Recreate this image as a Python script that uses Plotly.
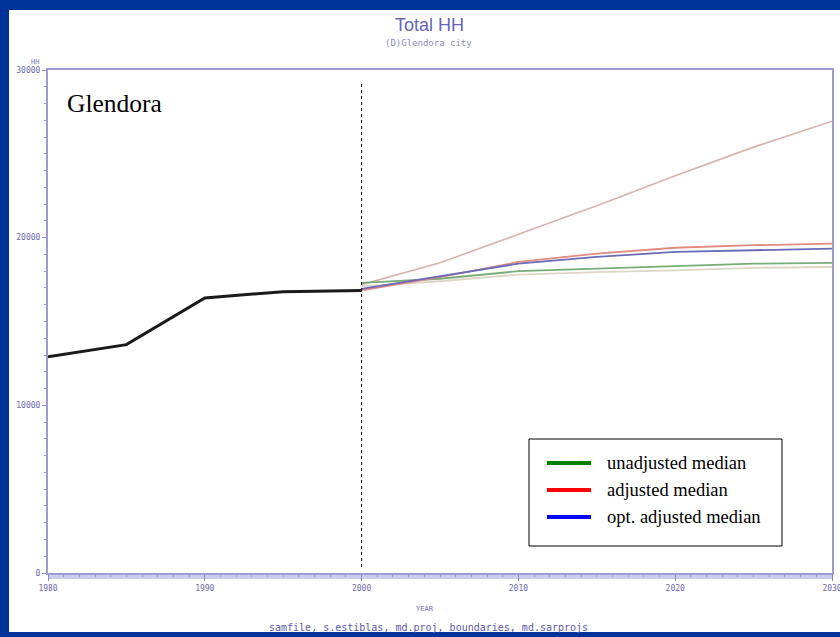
import plotly.graph_objects as go

# ---------------- data ----------------
hist_years = [1980, 1985, 1990, 1995, 2000]
hist_hh = [12900, 13620, 16400, 16780, 16850]

proj_years = [2000, 2005, 2010, 2015, 2020, 2025, 2030]
unadjusted_median = [17300, 17550, 18000, 18150, 18300, 18450, 18500]
adjusted_median = [16850, 17650, 18550, 19050, 19400, 19550, 19650]
opt_adjusted_median = [16950, 17700, 18450, 18850, 19150, 19250, 19350]
high_projection = [17200, 18500, 20200, 21900, 23700, 25400, 26950]
low_projection = [17100, 17400, 17800, 17950, 18050, 18200, 18250]

x_ticks = [1980, 1990, 2000, 2010, 2020, 2030]
y_ticks = [0, 10000, 20000, 30000]
forecast_start = 2000

legend_labels = ["unadjusted median", "adjusted median", "opt. adjusted median"]
legend_colors = ["#008000", "#ff0000", "#0000ff"]

title_text = "Total HH"
subtitle_text = "(D)Glendora city"
place_text = "Glendora"
x_title = "YEAR"
y_unit = "HH"
footer_text = "samfile, s.estiblas, md.proj, boundaries, md.sarprojs"

# ---------------- layout helpers (pixel -> paper) ----------------
W, H = 840, 637
ML, MR, MT, MB = 48, 8, 70, 64
PW, PH = W - ML - MR, H - MT - MB
BORDER = "#003399"


def xp(px):
    return (px - ML) / PW


def yp(py):
    return (H - MB - py) / PH


fig = go.Figure()

# projection lines (thin, pale)
fig.add_trace(go.Scatter(x=proj_years, y=high_projection, mode="lines",
                         line=dict(color="#d4b4ac", width=1.6), showlegend=False))
fig.add_trace(go.Scatter(x=proj_years, y=low_projection, mode="lines",
                         line=dict(color="#ddd6c6", width=1.8), showlegend=False))
fig.add_trace(go.Scatter(x=proj_years, y=unadjusted_median, mode="lines",
                         line=dict(color="#78ac78", width=1.8), showlegend=False))
fig.add_trace(go.Scatter(x=proj_years, y=adjusted_median, mode="lines",
                         line=dict(color="#e08a80", width=1.8), showlegend=False))
fig.add_trace(go.Scatter(x=proj_years, y=opt_adjusted_median, mode="lines",
                         line=dict(color="#6a6ab8", width=1.8), showlegend=False))

# historical
fig.add_trace(go.Scatter(x=hist_years, y=hist_hh, mode="lines",
                         line=dict(color="#1a1a1a", width=3), showlegend=False))

shapes = []
# blue page border (left, top, bottom)
for (px0, py0, px1, py1) in [(-2, -2, 9, H + 2), (-2, -2, W + 2, 10), (-2, 632, W + 2, H + 2)]:
    shapes.append(dict(type="rect", xref="paper", yref="paper", layer="above",
                       x0=xp(px0), x1=xp(px1), y0=yp(py1), y1=yp(py0),
                       fillcolor=BORDER, line=dict(width=0)))
# light band under bottom axis
shapes.append(dict(type="rect", xref="paper", yref="paper", layer="below",
                   x0=0, x1=1, y0=yp(579), y1=yp(573),
                   fillcolor="#ccccee", line=dict(width=0)))
# dotted forecast start line
shapes.append(dict(type="line", xref="x", yref="paper",
                   x0=forecast_start, x1=forecast_start, y0=yp(567), y1=yp(83),
                   line=dict(color="black", width=1, dash="dot")))
# legend box
shapes.append(dict(type="rect", xref="paper", yref="paper",
                   x0=xp(529), x1=xp(782), y0=yp(546), y1=yp(439),
                   fillcolor="white", line=dict(color="black", width=1)))

annotations = []
row_y = [463, 490, 517]
for lab, col, ry in zip(legend_labels, legend_colors, row_y):
    shapes.append(dict(type="line", xref="paper", yref="paper",
                       x0=xp(547), x1=xp(591), y0=yp(ry), y1=yp(ry),
                       line=dict(color=col, width=4)))
    annotations.append(dict(text=lab, xref="paper", yref="paper", x=xp(605), y=yp(ry),
                            xanchor="left", yanchor="middle", showarrow=False,
                            font=dict(family="Liberation Serif", size=18.5, color="black")))

annotations.append(dict(text=place_text, xref="paper", yref="paper", x=xp(65), y=yp(104),
                        xanchor="left", yanchor="middle", showarrow=False,
                        font=dict(family="Liberation Serif", size=25.5, color="black")))
annotations.append(dict(text=title_text, xref="paper", yref="paper", x=xp(429), y=yp(25),
                        xanchor="center", yanchor="middle", showarrow=False,
                        font=dict(family="Liberation Sans", size=18, color="#6464b8")))
annotations.append(dict(text=subtitle_text, xref="paper", yref="paper", x=xp(428), y=yp(43),
                        xanchor="center", yanchor="middle", showarrow=False,
                        font=dict(family="DejaVu Sans Mono", size=9, color="#8a8ac4")))
annotations.append(dict(text=y_unit, xref="paper", yref="paper", x=xp(41), y=yp(62),
                        xanchor="right", yanchor="middle", showarrow=False,
                        font=dict(family="DejaVu Sans Mono", size=7, color="#7a7ab8")))
annotations.append(dict(text=x_title, xref="paper", yref="paper", x=xp(425), y=yp(609),
                        xanchor="center", yanchor="middle", showarrow=False,
                        font=dict(family="DejaVu Sans Mono", size=7, color="#6a6ab0")))
annotations.append(dict(text=footer_text, xref="paper", yref="paper", x=xp(428), y=yp(627),
                        xanchor="center", yanchor="middle", showarrow=False,
                        font=dict(family="DejaVu Sans Mono", size=10, color="#5a5aa8")))

axis_font = dict(family="DejaVu Sans Mono", size=8, color="#6a6ab0")

fig.update_layout(
    width=W, height=H,
    margin=dict(l=ML, r=MR, t=MT, b=MB, pad=0, autoexpand=False),
    paper_bgcolor="white",
    plot_bgcolor="white",
    shapes=shapes,
    annotations=annotations,
    showlegend=False,
    xaxis=dict(range=[1980, 2030], tickvals=x_ticks, ticktext=[str(v) for v in x_ticks],
               automargin=False, ticklabeloverflow="allow",
               showgrid=False, zeroline=False, showline=True, mirror=True,
               linecolor="#9c9cd0", linewidth=2,
               ticks="outside", ticklen=6, tickcolor="#8a8ac4", tickwidth=1,
               minor=dict(dtick=1, tick0=1980, ticks="outside", ticklen=2,
                          tickcolor="#9c9cd0", showgrid=False),
               tickfont=axis_font),
    yaxis=dict(range=[0, 30000], tickvals=y_ticks, ticktext=[str(v) for v in y_ticks],
               automargin=False, ticklabeloverflow="allow",
               showgrid=False, zeroline=False, showline=True, mirror=True,
               linecolor="#9c9cd0", linewidth=2,
               ticks="outside", ticklen=4, tickcolor="#8a8ac4", tickwidth=1,
               minor=dict(dtick=1000, tick0=0, ticks="outside", ticklen=2,
                          tickcolor="#9c9cd0", showgrid=False),
               tickfont=axis_font),
)

fig.write_html(
    "out.html",
    config={"displayModeBar": False},
    post_script="document.body.style.margin='0';document.body.style.padding='0';"
                "document.body.style.overflow='hidden';"
                "document.documentElement.style.overflow='hidden';",
)
